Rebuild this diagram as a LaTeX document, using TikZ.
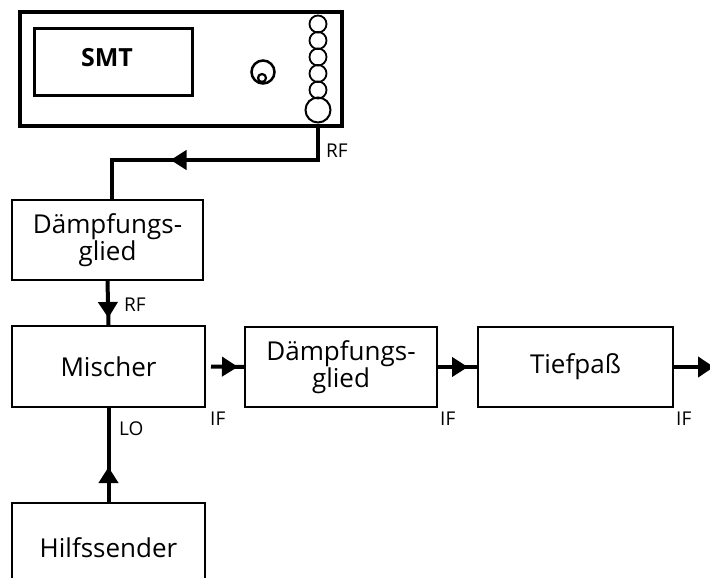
\documentclass[tikz,border=0pt]{standalone}
\usepackage{fontspec}
\setmainfont{Open Sans}
\usetikzlibrary{arrows.meta,decorations.markings}
\begin{document}
\begin{tikzpicture}[x=1pt,y=-1pt,
  box/.style={draw,line width=2pt,inner sep=0pt,align=center,font=\fontsize{26}{27}\selectfont},
  wire/.style={line width=4pt},
  lbl/.style={anchor=west,inner sep=0pt,font=\fontsize{19}{20}\selectfont},
  midarrow/.style={postaction={decorate},decoration={markings,mark=at position #1 with {\arrow{Triangle[length=16pt,width=19pt]}}}},
  knobline/.style={draw,line width=2.5pt,circle,inner sep=0pt}]
\clip (0,0) rectangle (710,578);
% generator
\node[draw,line width=3.5pt,minimum width=322pt,minimum height=114pt,inner sep=0pt] (gen) at (181,69) {};
\node[draw,line width=3pt,minimum width=158pt,minimum height=67pt,inner sep=0pt] (disp) at (113.5,62) {};
\node[font=\bfseries\fontsize{25}{26}\selectfont,inner sep=0pt] (smt) at (107,58) {SMT};
\node[knobline,minimum size=23pt] (knob) at (263,72) {};
\node[knobline,line width=2.2pt,minimum size=8pt] (knobdot) at (262,78) {};
\foreach \i/\yy in {1/24,2/40.5,3/57,4/73.5,5/90}
  \node[draw,circle,line width=1.8pt,minimum size=17pt,inner sep=0pt] (b\i) at (318,\yy) {};
\node[draw,circle,line width=2pt,minimum size=25pt,inner sep=0pt] (port) at (318,110) {};
% boxes
\node[box,minimum width=191pt,minimum height=80pt] (d1) at (107.5,240) {Dämpfungs-\\glied};
\node[box,minimum width=193pt,minimum height=81pt] (mix) at (108.5,366.5) {Mischer};
\node[box,minimum width=192pt,minimum height=80pt] (d2) at (341,367) {Dämpfungs-\\glied};
\node[box,minimum width=195pt,minimum height=80pt] (tp) at (575.5,367) {Tiefpaß};
\node[box,minimum width=193pt,minimum height=90pt] (hs) at (108.5,548) {Hilfssender};
% connectors
\coordinate (c1) at (112,160);
\coordinate (out) at (714,367);
\draw[wire,midarrow=184pt] (port.south) |- (c1) -- (c1 |- d1.north);
\draw[wire,midarrow=37pt] (d1.south) -- (mix.north);
\draw[wire,midarrow=27pt] ([xshift=5pt]mix.east) -- (d2.west);
\draw[wire,midarrow=30pt] (d2.east) -- (tp.west);
\draw[wire,-{Triangle[length=16pt,width=20pt]}] (tp.east) -- (out);
\draw[wire,midarrow=35pt] (hs.north) -- (mix.south);
% labels
\node[lbl] (rf1) at (326,151) {RF};
\node[lbl] (rf2) at (124,305) {RF};
\node[lbl] (if1) at (210,419) {IF};
\node[lbl] (if2) at (440,419) {IF};
\node[lbl] (if3) at (676,419) {IF};
\node[lbl] (lo) at (119,429) {LO};
\end{tikzpicture}
\end{document}
